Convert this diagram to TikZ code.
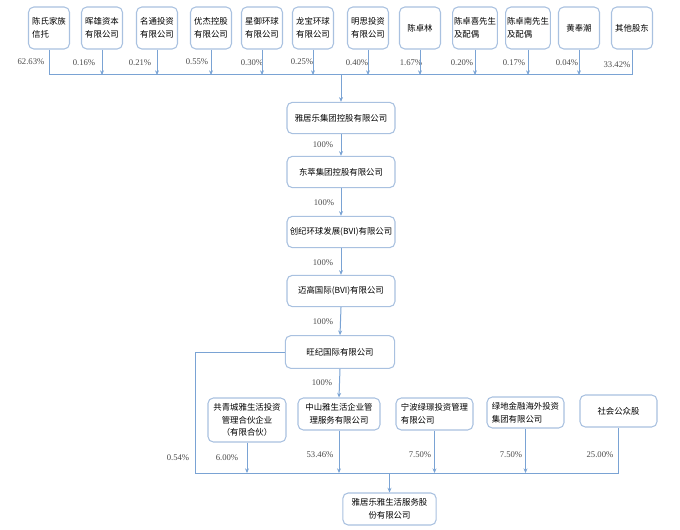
\documentclass[tikz,border=0pt]{standalone}
\usepackage{fontspec}
\setmainfont{Liberation Serif}
\newfontfamily\cjk{Noto Sans CJK SC}
\usetikzlibrary{arrows.meta}

\definecolor{linkblue}{HTML}{7AA3D4}
\definecolor{edgeblue}{HTML}{A9C1E0}
\definecolor{pctgray}{HTML}{4A4A4A}

\tikzset{
  holder/.style={draw=edgeblue, line width=0.8pt, rounded corners=4pt, fill=white,
    font=\cjk\fontsize{6.3pt}{9.5pt}\selectfont, inner sep=1pt, align=left,
    minimum width=30.75pt, minimum height=31.5pt},
  firm/.style={draw=edgeblue, line width=0.8pt, rounded corners=4pt, fill=white,
    font=\cjk\fontsize{6.3pt}{9.5pt}\selectfont, inner sep=1pt, align=center},
  pct/.style={text=pctgray, font=\fontsize{6.5pt}{8pt}\selectfont, inner sep=0pt},
  link/.style={linkblue, line width=0.75pt},
  arr/.style={link, -{Stealth[length=3.5pt,width=3pt]}}
}

\begin{document}
\begin{tikzpicture}[x=0.75pt, y=-0.75pt]
    \useasboundingbox (0,0) rectangle (680,530);

    % shareholders
    \node[holder] (t1) at (49, 28) {陈氏家族\\信托};
    \node[holder] (t2) at (102, 28) {晖雄资本\\有限公司};
    \node[holder] (t3) at (157, 28) {名通投资\\有限公司};
    \node[holder] (t4) at (211, 28) {优杰控股\\有限公司};
    \node[holder] (t5) at (262, 28) {星御环球\\有限公司};
    \node[holder] (t6) at (313, 28) {龙宝环球\\有限公司};
    \node[holder] (t7) at (368, 28) {明思投资\\有限公司};
    \node[holder] (t8) at (420, 28) {陈卓林};
    \node[holder] (t9) at (475, 28) {陈卓喜先生\\及配偶};
    \node[holder] (t10) at (528, 28) {陈卓南先生\\及配偶};
    \node[holder] (t11) at (579, 28) {黄奉潮};
    \node[holder] (t12) at (632, 28) {其他股东};

    \node[pct] (p1) at (31, 62) {62.63\%};
    \node[pct] (p2) at (84, 63) {0.16\%};
    \node[pct] (p3) at (140, 63) {0.21\%};
    \node[pct] (p4) at (197, 62) {0.55\%};
    \node[pct] (p5) at (252, 63) {0.30\%};
    \node[pct] (p6) at (302, 62) {0.25\%};
    \node[pct] (p7) at (357, 63) {0.40\%};
    \node[pct] (p8) at (411, 63) {1.67\%};
    \node[pct] (p9) at (462, 63) {0.20\%};
    \node[pct] (p10) at (514, 63) {0.17\%};
    \node[pct] (p11) at (567, 63) {0.04\%};
    \node[pct] (p12) at (617, 65) {33.42\%};

    \coordinate (bus) at (0, 75);
    \draw[link] (t1.south) -- (t1.south |- bus) -- (t12.south |- bus) -- (t12.south);
    \draw[arr] (t2.south) -- (t2.south |- bus);
    \draw[arr] (t3.south) -- (t3.south |- bus);
    \draw[arr] (t4.south) -- (t4.south |- bus);
    \draw[arr] (t5.south) -- (t5.south |- bus);
    \draw[arr] (t6.south) -- (t6.south |- bus);
    \draw[arr] (t7.south) -- (t7.south |- bus);
    \draw[arr] (t8.south) -- (t8.south |- bus);
    \draw[arr] (t9.south) -- (t9.south |- bus);
    \draw[arr] (t10.south) -- (t10.south |- bus);
    \draw[arr] (t11.south) -- (t11.south |- bus);

    % holding chain
    \node[firm, minimum width=81pt, minimum height=23.5pt] (c1) at (341, 118) {雅居乐集团控股有限公司};
    \node[firm, minimum width=81pt, minimum height=23.5pt] (c2) at (341, 172) {东萃集团控股有限公司};
    \node[firm, minimum width=81pt, minimum height=23.5pt] (c3) at (341, 232) {创纪环球发展(BVI)有限公司};
    \node[firm, minimum width=81pt, minimum height=23.5pt] (c4) at (341, 291) {迈高国际(BVI)有限公司};
    \node[firm, minimum width=82pt, minimum height=24.5pt] (c5) at (340, 352) {旺纪国际有限公司};

    \draw[arr] (bus -| c1.north) -- (c1.north);
    \draw[arr] (c1.south) -- (c2.north);
    \draw[arr] (c2.south) -- (c3.north);
    \draw[arr] (c3.south) -- (c4.north);
    \draw[arr] (c4.south) -- (c5.north);

    \node[pct] (h1) at (323, 145) {100\%};
    \node[pct] (h2) at (324, 203) {100\%};
    \node[pct] (h3) at (323, 263) {100\%};
    \node[pct] (h4) at (323, 322) {100\%};
    \node[pct] (h5) at (322, 383) {100\%};

    % direct holders of the listed company
    \node[firm, minimum width=58.5pt, minimum height=33pt] (s1) at (247, 420) {共青城雅生活投资\\管理合伙企业\\（有限合伙）};
    \node[firm, minimum width=61.5pt, minimum height=24pt] (s2) at (339, 414) {中山雅生活企业管\\理服务有限公司};
    \node[firm, minimum width=57.75pt, minimum height=24pt, align=left] (s3) at (434.5, 414) {宁波绿璟投资管理\\有限公司};
    \node[firm, minimum width=57.75pt, minimum height=23.25pt, align=left] (s4) at (525.5, 412.5) {绿地金融海外投资\\集团有限公司};
    \node[firm, minimum width=57.75pt, minimum height=24pt] (s5) at (618.5, 411) {社会公众股};

    \node[firm, minimum width=70pt, minimum height=24pt] (f) at (389.5, 509) {雅居乐雅生活服务股\\份有限公司};

    \coordinate (lft) at (195, 473);
    \draw[arr] (c5.south) -- (s2.north);
    \draw[link] (c5.west) -| (lft) -- (lft -| s5.south) -- (s5.south);
    \draw[arr] (s1.south) -- (s1.south |- lft);
    \draw[arr] (s2.south) -- (s2.south |- lft);
    \draw[arr] (s3.south) -- (s3.south |- lft);
    \draw[arr] (s4.south) -- (s4.south |- lft);
    \draw[arr] (lft -| f.north) -- (f.north);

    \node[pct] (q0) at (178, 458) {0.54\%};
    \node[pct] (q1) at (227, 458) {6.00\%};
    \node[pct] (q2) at (320, 455) {53.46\%};
    \node[pct] (q3) at (420, 455) {7.50\%};
    \node[pct] (q4) at (511, 455) {7.50\%};
    \node[pct] (q5) at (600, 455) {25.00\%};
\end{tikzpicture}
\end{document}
